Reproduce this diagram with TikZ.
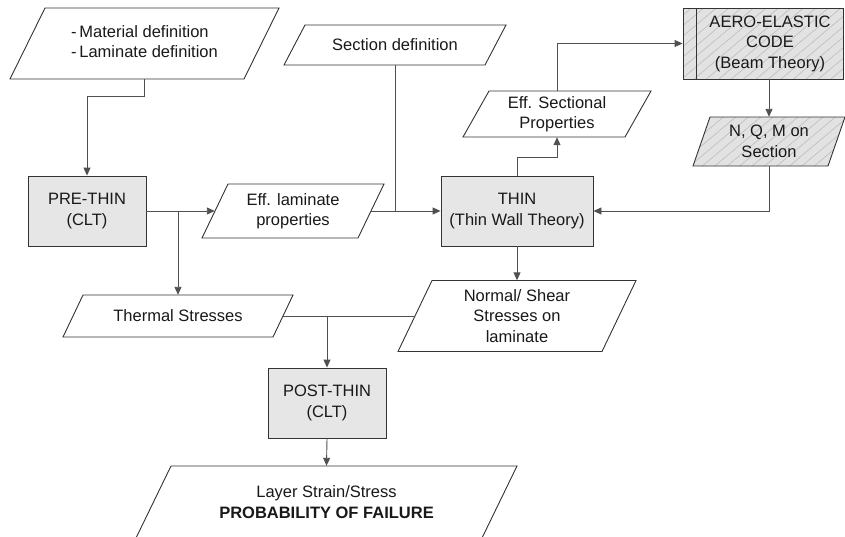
\documentclass[tikz,border=0pt]{standalone}
\usepackage{fontspec}
\setmainfont{Liberation Sans}
\usetikzlibrary{arrows.meta,patterns.meta,calc}
\definecolor{boxfill}{HTML}{E6E6E6}
\definecolor{linecol}{HTML}{505050}
\definecolor{bordercol}{HTML}{333333}
\definecolor{hatchcol}{HTML}{BDBDBD}
\definecolor{hatchbg}{HTML}{E2E2E2}
\tikzset{
  txt/.style={inner sep=0pt, align=center, font=\fontsize{16.5}{20.5}\selectfont, text=black!90},
  parashape/.style={draw=bordercol, line width=0.9pt, fill=white},
  hatched/.style={preaction={fill=hatchbg}, pattern={Lines[angle=40,distance=8pt,line width=0.6pt]}, pattern color=hatchcol},
  procbox/.style={txt, draw=bordercol, line width=0.9pt, fill=boxfill},
  conn/.style={draw=linecol, line width=0.9pt},
  arr/.style={conn, -{Triangle[length=8pt,width=7pt]}},
}
% name, cx, cy, half width, half height, slant, shape style, text
\newcommand\paranode[8]{%
  \path[parashape,#7] ({#2-#4+#6},{#3-#5}) -- ({#2+#4},{#3-#5}) -- ({#2+#4-#6},{#3+#5}) -- ({#2-#4},{#3+#5}) -- cycle;
  \node[txt, minimum width={2*#4-#6}, minimum height={2*#5}] (#1) at (#2,#3) {#8};}
\begin{document}
\begin{tikzpicture}[x=1pt,y=-1pt]
\useasboundingbox (0,0) rectangle (845,536);
% parallelograms
\paranode{mat}{144.5}{43.5}{134.5}{35.5}{35}{}{\begin{tabular}{@{}l@{}}-\,Material definition\\-\,Laminate definition\end{tabular}}
\paranode{efflam}{293}{211}{91}{27}{26}{}{Eff. laminate\\properties}
\paranode{thermal}{178}{316}{115}{21}{20}{}{Thermal Stresses}
\paranode{sec}{395}{45}{111}{20}{21}{}{Section definition}
\paranode{effsec}{557}{114}{94}{23}{26}{}{Eff. Sectional\\Properties}
\paranode{nqm}{769}{141.5}{76}{24.5}{17}{hatched}{N, Q, M on\\Section}
\paranode{normal}{517}{316}{119}{35.5}{34}{}{Normal/ Shear\\Stresses on\\laminate}
\paranode{layer}{326.5}{502}{190.5}{36}{35}{}{Layer Strain/Stress\\\textbf{PROBABILITY OF FAILURE}}
% process boxes
\node[procbox, minimum width=118pt, minimum height=70pt] (pre) at (87,211) {PRE-THIN\\(CLT)};
\node[procbox, minimum width=152pt, minimum height=70pt] (thin) at (517,211) {THIN\\(Thin Wall Theory)};
\node[procbox, minimum width=118pt, minimum height=70pt] (post) at (327,403) {POST-THIN\\(CLT)};
\node[draw=bordercol, line width=0.9pt, hatched, minimum width=160pt, minimum height=71pt, inner sep=0pt] (aero) at (763,43.5) {};
\draw[draw=bordercol, line width=0.9pt] ($(aero.north west)+(14,0)$) -- ($(aero.south west)+(14,0)$);
\node[txt] (aerotxt) at (770,43.5) {AERO-ELASTIC\\CODE\\(Beam Theory)};
% connectors
\draw[arr] (mat.south) -- ++(0,17) -| (pre.north);
\draw[arr] (pre.east) -- (efflam.west);
\draw[arr] (pre.east -| thermal.north) -- (thermal.north);
\draw[arr] (efflam.east) -- (thin.west);
\draw[conn] (sec.south) -- (sec.south |- thin.west);
\draw[arr] (thin.north) -- ++(0,-18) -| (effsec.south);
\draw[arr] (effsec.north) |- (aero.west);
\draw[arr] (aero.south -| nqm.north) -- (nqm.north);
\draw[arr] (nqm.south) |- (thin.east);
\draw[arr] (thin.south) -- (normal.north);
\draw[conn] (thermal.east) -- (normal.west);
\draw[arr] (thermal.east -| post.north) -- (post.north);
\draw[arr] (post.south) -- (layer.north);
\end{tikzpicture}
\end{document}
